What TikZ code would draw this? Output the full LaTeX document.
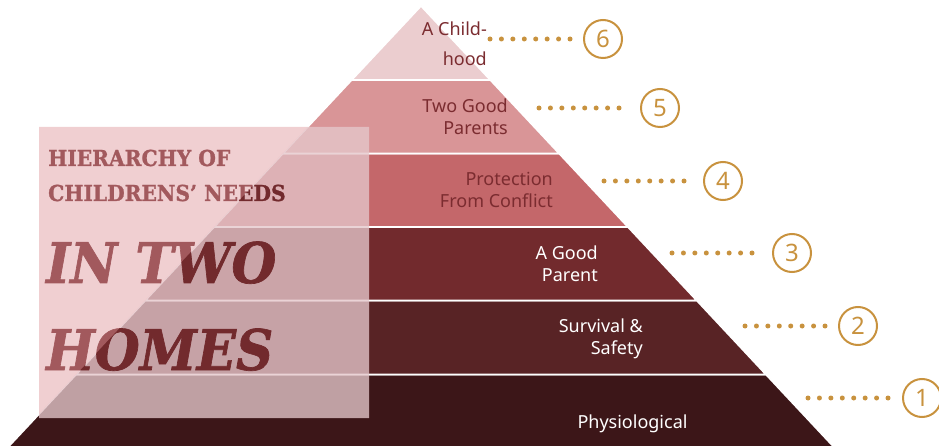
\documentclass[tikz,border=0pt]{standalone}
\usepackage{fontspec}
\setmainfont{Noto Sans}
\newfontfamily\titlefont{DejaVu Serif}[FakeStretch=0.92,BoldFeatures={FakeBold=1.2},BoldItalicFeatures={FakeBold=1.2}]
\definecolor{lvone}{HTML}{3C1618}
\definecolor{lvtwo}{HTML}{582325}
\definecolor{lvthree}{HTML}{722A2D}
\definecolor{lvfour}{HTML}{C4676A}
\definecolor{lvfive}{HTML}{D99597}
\definecolor{lvsix}{HTML}{EBCDCF}
\definecolor{labdark}{HTML}{7B2C30}
\definecolor{gold}{HTML}{C8923E}
\definecolor{titlecol}{HTML}{722A2D}
\definecolor{ovin}{RGB}{229,199,203}
\definecolor{ovout}{RGB}{222,148,153}
\begin{document}
\begin{tikzpicture}[x=1pt,y=-1pt,
  level/.style={draw=white,line width=1.6pt},
  lab/.style={inner sep=0pt,align=right,anchor=east,font=\fontsize{18}{22}\selectfont},
  num/.style={circle,draw=gold,line width=2pt,minimum size=38pt,inner sep=0pt,text=gold,font=\fontsize{24}{24}\selectfont},
  dots/.style={draw=gold,line width=5pt,line cap=round,dash pattern=on 0pt off 11.43pt},
  ttl/.style={inner sep=0pt,anchor=base west,text=titlecol}]
\useasboundingbox (0,0) rectangle (939,446);
% pyramid levels
\fill[lvone,level] (76.1,374.5) -- (765.9,374.5) -- (834.7,448) -- (7.3,448) -- cycle;
\fill[lvtwo,level] (145.3,300.5) -- (696.7,300.5) -- (765.9,374.5) -- (76.1,374.5) -- cycle;
\fill[lvthree,level] (214.1,227) -- (627.9,227) -- (696.7,300.5) -- (145.3,300.5) -- cycle;
\fill[lvfour,level] (282.9,153.5) -- (559.1,153.5) -- (627.9,227) -- (214.1,227) -- cycle;
\fill[lvfive,level] (351.7,80) -- (490.3,80) -- (559.1,153.5) -- (282.9,153.5) -- cycle;
\fill[lvsix,level] (421,6) -- (490.3,80) -- (351.7,80) -- cycle;
% level labels
\node[lab,text=labdark,font=\fontsize{18}{30}\selectfont] (l6) at (487,44) {A Child-\\hood};
\node[lab,text=labdark] (l5) at (508,117) {Two Good\\Parents};
\node[lab,text=labdark] (l4) at (553,190) {Protection\\From Conflict};
\node[lab,text=white] (l3) at (598,264) {A Good\\Parent};
\node[lab,text=white] (l2) at (643,339) {Survival \&\\Safety};
\node[lab,text=white,anchor=center] (l1) at (632.5,424) {Physiological};
% numbered circles
\node[num] (c6) at (603,39) {6};
\node[num] (c5) at (660,108) {5};
\node[num] (c4) at (723,181) {4};
\node[num] (c3) at (792,253) {3};
\node[num] (c2) at (858,326) {2};
\node[num] (c1) at (922,398) {1};
\coordinate (s6) at (490,39);
\coordinate (s5) at (539,108);
\coordinate (s4) at (604,181);
\coordinate (s3) at (672,253);
\coordinate (s2) at (745,326);
\coordinate (s1) at (808,398);
\draw[dots,shorten >=12pt] (s6) -- (c6);
\draw[dots,shorten >=20pt] (s5) -- (c5);
\draw[dots,shorten >=18pt] (s4) -- (c4);
\draw[dots,shorten >=19pt] (s3) -- (c3);
\draw[dots,shorten >=12pt] (s2) -- (c2);
\draw[dots,shorten >=13pt] (s1) -- (c1);
% overlay inside pyramid
\fill[ovin,fill opacity=0.78] (307.7,127) -- (369,127) -- (369,418) -- (39,418) -- (39,414.1) -- cycle;
% title
\node[ttl,font=\titlefont\bfseries\fontsize{22}{22}\selectfont] (t1) at (48,166) {HIERARCHY OF};
\node[ttl,font=\titlefont\bfseries\fontsize{22}{22}\selectfont] (t2) at (48,201) {CHILDRENS’ NEEDS};
\node[ttl,font=\titlefont\bfseries\itshape\fontsize{56}{56}\selectfont] (t3) at (46,283) {IN TWO};
\node[ttl,font=\titlefont\bfseries\itshape\fontsize{56}{56}\selectfont] (t4) at (46,370) {HOMES};
% overlay outside pyramid
\fill[ovout,fill opacity=0.45] (39,127) -- (307.7,127) -- (39,414.1) -- cycle;
\end{tikzpicture}
\end{document}
